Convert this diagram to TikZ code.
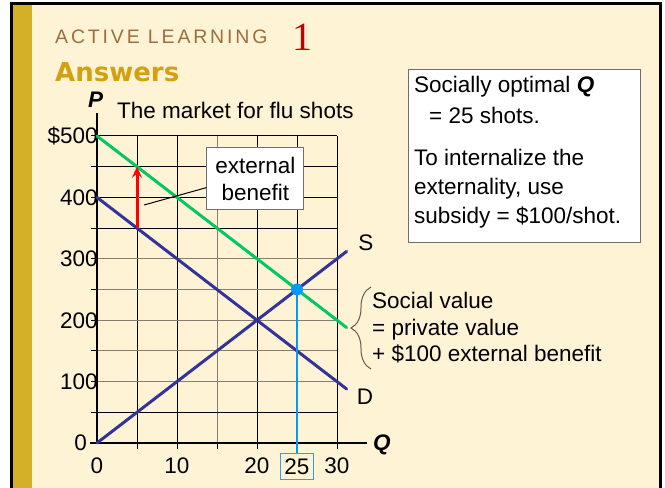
\documentclass[tikz,border=0pt]{standalone}
\usepackage{fontspec}
\setmainfont{Liberation Sans}
\newfontfamily\titlefont[LetterSpace=14.5]{Liberation Sans}
\newfontfamily\numfont{Liberation Serif}
\newfontfamily\headfont{DejaVu Sans}
\usetikzlibrary{decorations.pathreplacing,arrows.meta}
\definecolor{cream}{RGB}{255,243,214}
\definecolor{goldbar}{RGB}{212,175,40}
\definecolor{titlebrown}{RGB}{155,110,60}
\definecolor{answersgold}{RGB}{212,160,16}
\definecolor{numred}{RGB}{192,0,0}
\definecolor{socgreen}{RGB}{0,200,100}
\definecolor{navy}{RGB}{51,51,153}
\definecolor{ltblue}{RGB}{0,153,255}
\definecolor{boxblue}{RGB}{40,160,255}
\definecolor{gridgray}{RGB}{135,125,110}
\definecolor{bracegray}{RGB}{100,90,80}
\definecolor{boxedge}{RGB}{110,110,110}
\tikzset{
  txt/.style={font=\fontsize{22.5}{27}\selectfont, inner sep=0pt},
  curve/.style={line width=3pt, line cap=round},
  gridblk/.style={line width=1pt, black},
  gridgry/.style={line width=1pt, gridgray},
  axisline/.style={line width=2pt, black},
  tickline/.style={line width=1pt, black},
  ylab/.style={txt, anchor=base east, yshift=-8pt},
  xlab/.style={txt, anchor=base, yshift=-31pt},
}
\begin{document}
\begin{tikzpicture}[x=1pt,y=1pt]
\useasboundingbox (0,0) rectangle (665,488);
\fill[white] (0,0) rectangle (665,488);
\fill[cream] (12,0) rectangle (660,484);
\fill[goldbar] (13,0) rectangle (32,484);
\draw[line width=2.6pt, black] (11.5,-5) -- (11.5,484.3) -- (660.5,484.3) -- (660.5,-5);

% title
\node[anchor=base west, inner sep=0, text=titlebrown, font=\titlefont\fontsize{19.5}{23}\selectfont] (title) at (55,444) {ACTIVE LEARNING};
\node[anchor=base west, inner sep=0, text=numred, font=\numfont\fontsize{40}{44}\selectfont] (num) at (292,437) {1};
\node[anchor=base west, inner sep=0, text=answersgold, font=\headfont\bfseries\fontsize{26}{30}\selectfont] (answers) at (55,406) {Answers};

\node[txt, anchor=base west] (Plab) at (88,380) {\textbf{\textit{P}}};
\node[txt, anchor=base west] (mkt) at (117,369) {The market for flu shots};
\node[txt, anchor=base west] (Qlab) at (373,37) {\textbf{\textit{Q}}};

\begin{scope}[shift={(97,45)}, x=8pt, y=0.614pt]
  % grid
  \foreach \q in {5,10,20,25,30} \draw[gridblk] (\q,0) -- (\q,500);
  \draw[gridgry] (15,0) -- (15,500);
  \foreach \p in {100,150,200,250,300} \draw[gridgry] (0,\p) -- (30,\p);
  \foreach \p in {50,350,400,450,500} \draw[gridblk] (0,\p) -- (30,\p);
  % ticks
  \foreach \p in {50,100,...,500} \draw[tickline] (-0.75,\p) -- (0,\p);
  \foreach \q in {5,10,...,30} \draw[tickline] (\q,0) -- (\q,-10);
  % axes
  \coordinate (O) at (0,0);
  \coordinate (Ytop) at (0,537);
  \coordinate (Xleft) at (-0.9,0);
  \coordinate (Xright) at (33.75,0);
  \draw[axisline] (O) -- (Ytop);
  \draw[axisline] (Xleft) -- (Xright);
  % axis labels
  \node[ylab] (y500) at (0.1,500) {\$500};
  \node[ylab] (y400) at (0.1,400) {400};
  \node[ylab] (y300) at (0.1,300) {300};
  \node[ylab] (y200) at (0.1,200) {200};
  \node[ylab] (y100) at (0.1,100) {100};
  \node[ylab] (y0) at (-1.25,0) {0};
  \node[xlab] (x0) at (0,0) {0};
  \node[xlab] (x10) at (10,0) {10};
  \node[xlab] (x20) at (20,0) {20};
  \node[xlab] (x30) at (30,0) {30};
  % curves
  \coordinate (G0) at (0,500); \coordinate (G1) at (31.2,188);
  \coordinate (D0) at (0,400); \coordinate (D1) at (31.2,88);
  \coordinate (S0) at (0,0);   \coordinate (S1) at (31.2,312);
  \draw[curve, navy] (S0) -- (S1);
  \draw[curve, navy] (D0) -- (D1);
  \draw[curve, socgreen] (G0) -- (G1);
  \node[txt] (Slab) at (33.6,326) {S};
  \node[txt] (Dlab) at (33.5,75) {D};
  % equilibrium
  \coordinate (E) at (25,250);
  \node[txt, draw, color=boxblue, text=black, line width=1.3pt, fill=cream, minimum width=33pt, minimum height=26pt] (n25) at (25,-38) {25};
  \draw[ltblue, line width=2pt] (E) -- (n25.north);
  \node[circle, fill=ltblue, minimum size=12pt, inner sep=0pt] (Edot) at (E) {};
  % red arrow
  \coordinate (A0) at (5,350); \coordinate (A1) at (5,450);
  \draw[red, line width=3pt, -{Stealth[length=11pt,width=10pt,inset=4pt]}] (A0) -- (A1);
  % external benefit
  \node[txt, draw=boxedge, line width=1pt, fill=white, minimum width=97pt, minimum height=62pt, align=center] (ext) at (19.81,430) {external\\benefit};
  \coordinate (L0) at (5.875,387.6);
  \draw[line width=1pt] (L0) -- (ext.190);
\end{scope}

% answer box
\node[draw=boxedge, fill=white, line width=1pt, anchor=north west, minimum width=232pt, minimum height=173pt, inner sep=0pt] (ans) at (408,419) {};
\node[txt, anchor=base west] (a1) at (414,395) {Socially optimal \textbf{\textit{Q}}};
\node[txt, anchor=base west] (a2) at (429,364) {= 25 shots.};
\node[txt, anchor=base west] (a3) at (414,322) {To internalize the};
\node[txt, anchor=base west] (a4) at (414,293) {externality, use};
\node[txt, anchor=base west] (a5) at (414,264) {subsidy = \$100/shot.};

% brace
\coordinate (Bb) at (371,119);
\coordinate (Bt) at (371,201);
\draw[decorate, decoration={brace, amplitude=20pt, aspect=0.5}, line width=1pt, bracegray] (Bb) -- (Bt);
\node[txt, anchor=base west] (b1) at (372,179) {Social value};
\node[txt, anchor=base west] (b2) at (372,152) {= private value};
\node[txt, anchor=base west] (b3) at (372,126) {+ \$100 external benefit};
\end{tikzpicture}
\end{document}
